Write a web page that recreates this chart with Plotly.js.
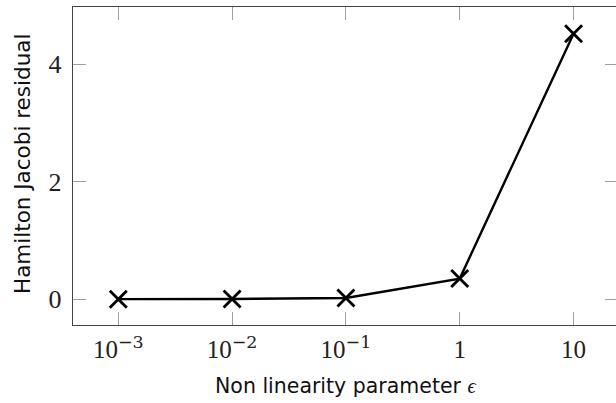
<!DOCTYPE html>
<html>
<head>
<meta charset="utf-8">
<script src="https://cdn.plot.ly/plotly-3.0.1.min.js"></script>
<style>html,body{margin:0;padding:0;background:#fff;}#chart{width:616px;height:403px;}</style>
</head>
<body>
<div id="chart"></div>
<script>
var epsilon = [0.001, 0.01, 0.1, 1, 10];
var residual = [0.0, 0.003, 0.02, 0.35, 4.52];
var xTickVals = [0.001, 0.01, 0.1, 1, 10];
var xTickText = ['10<sup>\u22123</sup>', '10<sup>\u22122</sup>', '10<sup>\u22121</sup>', '1', '10'];
var yTickVals = [0, 2, 4];
var yTickText = ['0', '2', '4'];

var trace = {
  x: epsilon, y: residual, type: 'scatter', mode: 'lines+markers',
  line: {color: '#000', width: 2.4},
  marker: {symbol: 'x-thin-open', size: 17, color: '#000', line: {color: '#000', width: 2.8}},
  showlegend: false, cliponaxis: false
};
var serif = 'Liberation Serif, DejaVu Serif, serif';
var yRange = [-0.44, 4.975];
var layout = {
  width: 616, height: 403,
  margin: {l: 73, r: 0, t: 7, b: 78},
  paper_bgcolor: '#fff', plot_bgcolor: '#fff',
  xaxis: {
    type: 'log', range: [-3.398, 1.373],
    tickvals: xTickVals,
    ticktext: xTickText.map(function (t) {
      return t.replace(/<sup>(.*?)<\/sup>/, '<sup><span style="font-family:DejaVu Serif">$1</span></sup>');
    }),
    ticks: 'inside', ticklen: 13, tickcolor: '#a0a0a0', tickwidth: 1,
    showline: true, linecolor: '#444', linewidth: 1.3, mirror: 'ticks',
    showgrid: false, zeroline: false,
    tickfont: {family: serif, size: 25, color: '#222'},
    ticklabelstandoff: 2
  },
  yaxis: {
    range: yRange,
    tickvals: yTickVals, ticktext: yTickText,
    ticks: 'inside', ticklen: 13, tickcolor: '#a0a0a0', tickwidth: 1,
    showline: true, linecolor: '#444', linewidth: 1.3, mirror: false,
    showgrid: false, zeroline: false,
    tickfont: {family: serif, size: 26, color: '#222'},
    ticklabelstandoff: 5
  },
  yaxis2: {
    overlaying: 'y', side: 'right', matches: 'y', range: yRange,
    tickvals: yTickVals, ticks: 'inside', ticklen: 11, tickcolor: '#a0a0a0', tickwidth: 1,
    showticklabels: false, showline: false, showgrid: false, zeroline: false
  },
  annotations: [
    {text: 'Non linearity parameter <span style="font-family:Liberation Serif"><i>\u03f5</i></span>', showarrow: false,
     font: {family: 'DejaVu Sans', size: 20.5, color: '#111'}},
    {text: 'Hamilton Jacobi residual', textangle: -90, showarrow: false,
     font: {family: 'DejaVu Sans', size: 21.5, color: '#111'}}
  ]
};
var plotW = 616 - 73, plotH = 403 - 7 - 78;
var a0 = layout.annotations[0], a1 = layout.annotations[1];
a0.xref = 'paper'; a0.yref = 'paper'; a0.xanchor = 'center'; a0.yanchor = 'middle';
a0.x = (346 - 73) / plotW; a0.y = (403 - 78 - 386) / plotH;
a1.xref = 'paper'; a1.yref = 'paper'; a1.xanchor = 'center'; a1.yanchor = 'middle';
a1.x = (22 - 73) / plotW; a1.y = (403 - 78 - 164) / plotH;

var trace2 = {x: [], y: [], yaxis: 'y2', showlegend: false, hoverinfo: 'skip'};
Plotly.newPlot('chart', [trace, trace2], layout, {displayModeBar: false, staticPlot: true});
</script>
</body>
</html>
